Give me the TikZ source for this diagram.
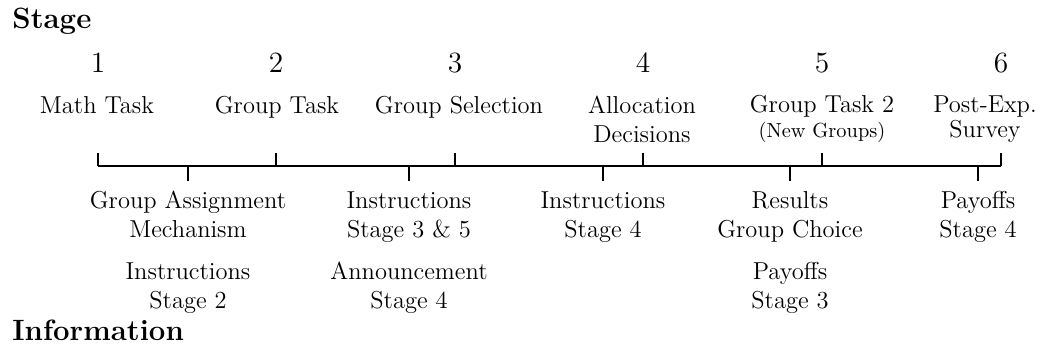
\documentclass[tikz,border=0pt,12pt]{standalone}
\begin{document}
\begin{tikzpicture}[x=0.49pt,y=-0.49pt,
  lbl/.style={inner sep=0pt,anchor=base,align=center,font=\fontsize{12}{14}\selectfont},
  tight/.style={inner sep=0pt,anchor=base,align=center,font=\fontsize{12}{11.8}\selectfont},
  num/.style={inner sep=0pt,anchor=base,font=\large},
  head/.style={inner sep=0pt,anchor=base west,font=\large\bfseries},
  axis/.style={line width=0.9pt},
  tick/.style={line width=0.5pt}]
\useasboundingbox (0,0) rectangle (1049,358);
\node[head] (hstage) at (12,28) {Stage};
\node[head] (hinfo) at (12,340) {Information};
% axis
\coordinate (a0) at (98,166);
\coordinate (a1) at (1001,166);
\draw[axis] (a0) -- (a1);
% stage ticks
\foreach \x/\n in {98/1,276/2,455/3,643/4,822/5,1001/6}{
  \coordinate (s\n) at (\x,166);
  \coordinate (st\n) at (\x,153);
  \draw[tick] (s\n) -- (st\n);
  \node[num] (n\n) at (\x,72) {\n};
}
% info ticks
\foreach \x/\n in {188/1,409/2,603/3,790/4,978/5}{
  \coordinate (i\n) at (\x,166);
  \coordinate (ib\n) at (\x,181);
  \draw[tick] (i\n) -- (ib\n);
}
% stage labels (anchor = baseline of last line)
\node[lbl] (l1) at (97,113) {Math Task};
\node[lbl] (l2) at (277,113) {Group Task};
\node[lbl] (l3) at (459,113) {Group Selection};
\node[lbl] (l4) at (642,142) {Allocation\\Decisions};
\node[tight] (l5) at (822,137) {Group Task 2\\{\footnotesize (New Groups)}};
\node[tight] (l6) at (985,137) {Post-Exp.\\Survey};
% info labels
\node[lbl] (f1) at (188,237) {Group Assignment\\Mechanism};
\node[lbl] (f1b) at (188,308) {Instructions\\Stage 2};
\node[lbl] (f2) at (409,237) {Instructions\\Stage 3 \& 5};
\node[lbl] (f2b) at (409,308) {Announcement\\Stage 4};
\node[lbl] (f3) at (603,237) {Instructions\\Stage 4};
\node[lbl] (f4) at (790,237) {Results\\Group Choice};
\node[lbl] (f4b) at (790,308) {Payoffs\\Stage 3};
\node[lbl] (f5) at (978,237) {Payoffs\\Stage 4};
\end{tikzpicture}
\end{document}
